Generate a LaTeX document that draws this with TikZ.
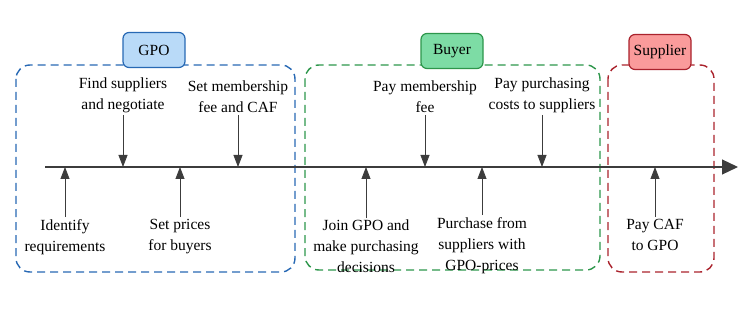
\documentclass[tikz,border=0pt]{standalone}
\usepackage{fontspec}
\setmainfont{Liberation Serif}
\usetikzlibrary{arrows.meta,positioning}
\definecolor{gpoblue}{RGB}{40,105,180}
\definecolor{gpofill}{RGB}{185,218,248}
\definecolor{buygreen}{RGB}{45,150,75}
\definecolor{buyfill}{RGB}{125,220,165}
\definecolor{supred}{RGB}{170,35,45}
\definecolor{supfill}{RGB}{250,155,155}
\definecolor{axisgray}{RGB}{60,60,60}

\begin{document}
\begin{tikzpicture}[x=1pt,y=-1pt,
  every node/.style={font=\fontsize{15.5}{21}\selectfont,align=center,inner sep=2pt},
  frame/.style={draw=#1,line width=1.4pt,dash pattern=on 8pt off 5pt,rounded corners=14pt},
  tag/.style={draw=#1,line width=1.2pt,rounded corners=6pt,minimum width=62pt,minimum height=35pt},
  event/.style={draw=axisgray,line width=0.8pt,-{Triangle[length=12pt,width=9pt]}}]
\useasboundingbox (0,0) rectangle (750,310);

% actor frames
\draw[frame=gpoblue] (16,65) rectangle (295,272);
\draw[frame=buygreen] (305,65) rectangle (600,270);
\draw[frame=supred] (608,65) rectangle (714,272);
\node[tag=gpoblue,fill=gpofill] (gpo) at (154,50) {GPO};
\node[tag=buygreen,fill=buyfill] (buyer) at (452,51) {Buyer};
\node[tag=supred,fill=supfill] (supplier) at (660,52) {Supplier};

% time axis
\coordinate (t0) at (45,167);
\coordinate (t1) at (738,167);
\draw[axisgray,line width=1.2pt,-{Triangle[length=16pt,width=15pt]}] (t0) -- (t1);

% steps above the axis
\node[anchor=south] (find) at (123,115) {Find suppliers\\and negotiate};
\node[anchor=south] (fee) at (238,115) {Set membership\\fee and CAF};
\node[anchor=south] (paymem) at (425,115) {Pay membership\\fee};
\node[anchor=south] (paycost) at (542,115) {Pay purchasing\\costs to suppliers};
\foreach \s in {find,fee,paymem,paycost}
  \draw[event] (\s.south) -- (\s.south |- t0);

% steps below the axis
\node[anchor=north] (ident) at (65,217) {Identify\\requirements};
\node[anchor=north] (prices) at (180,217) {Set prices\\for buyers};
\node[anchor=north] (join) at (366,218) {Join GPO and\\make purchasing\\decisions};
\node[anchor=north] (purch) at (482,215) {Purchase from\\suppliers with\\GPO-prices};
\node[anchor=north] (paycaf) at (655,217) {Pay CAF\\to GPO};
\foreach \s in {ident,prices,join,purch,paycaf}
  \draw[event] (\s.north) -- (\s.north |- t0);
\end{tikzpicture}
\end{document}
